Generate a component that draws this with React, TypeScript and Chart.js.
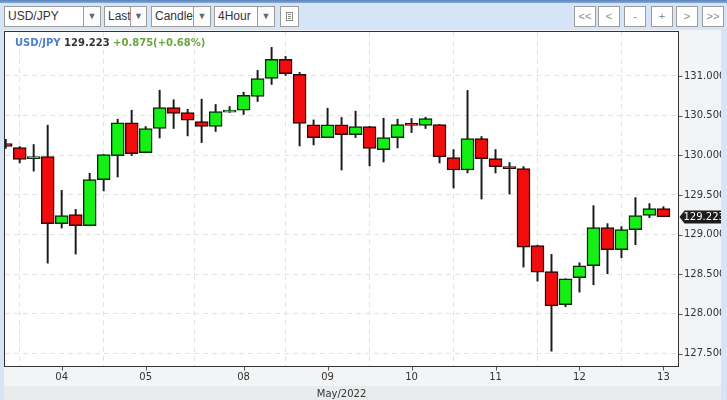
import React, { useEffect, useRef } from 'react';
import { Chart, registerables } from 'chart.js';

Chart.register(...registerables);

// ---- data (4-hour candles, USD/JPY, May 2022) ----
const opens = [
  130.148, 130.097, 129.958, 129.983, 129.138, 129.251, 129.112, 129.693, 129.996, 130.41,
  130.034, 130.337, 130.6, 130.539, 130.425, 130.362, 130.543, 130.568, 130.741, 130.968,
  131.208, 131.019, 130.383, 130.223, 130.383, 130.261, 130.362, 130.072, 130.223, 130.382,
  130.375, 130.388, 129.971, 129.814, 130.21, 129.958, 129.857, 129.832, 128.86, 128.532,
  128.115, 128.456, 128.607, 129.087, 128.809, 129.062, 129.24, 129.327,
];
const highs = [
  130.2, 130.11, 130.135, 130.379, 129.558, 129.318, 129.773, 130.01, 130.455, 130.568,
  130.362, 130.82, 130.7, 130.58, 130.707, 130.64, 130.615, 130.795, 131.07, 131.36,
  131.246, 131.044, 130.446, 130.593, 130.476, 130.556, 130.365, 130.467, 130.455, 130.463,
  130.48, 130.39, 130.072, 130.817, 130.236, 130.072, 129.908, 129.857, 128.867, 128.75,
  128.443, 128.645, 129.365, 129.138, 129.1, 129.466, 129.39, 129.352,
];
const lows = [
  130.085, 129.903, 129.8, 128.64, 129.082, 128.754, 129.11, 129.55, 129.726, 129.996,
  130.03, 130.218, 130.337, 130.244, 130.16, 130.3, 130.54, 130.514, 130.678, 130.893,
  131.006, 130.117, 130.13, 130.223, 129.814, 130.223, 129.865, 129.915, 130.092, 130.286,
  130.337, 129.903, 129.587, 129.777, 129.448, 129.777, 129.511, 128.59, 128.413, 127.53,
  128.09, 128.274, 128.367, 128.506, 128.708, 128.872, 129.213, 129.226,
];
const closes = [
  130.11, 129.946, 129.983, 129.138, 129.239, 129.112, 129.693, 130.009, 130.41, 130.02,
  130.337, 130.6, 130.527, 130.442, 130.362, 130.552, 130.568, 130.754, 130.968, 131.208,
  131.03, 130.4, 130.223, 130.383, 130.261, 130.362, 130.085, 130.223, 130.388, 130.376,
  130.463, 129.979, 129.814, 130.21, 129.958, 129.857, 129.832, 128.842, 128.527, 128.102,
  128.443, 128.607, 129.087, 128.809, 129.062, 129.24, 129.327, 129.223,
];
const dayTickIndex = [4, 10, 17, 23, 29, 35, 41, 47];
const dayTickLabels = ['04', '05', '08', '09', '10', '11', '12', '13'];
const priceTicks = [127.5, 128, 128.5, 129, 129.5, 130, 130.5, 131];
const lastPrice = 129.223;
const symbolName = 'USD/JPY';
const lastPriceText = '129.223';
const changeText = '+0.875(+0.68%)';
const monthLabel = 'May/2022';
const selectTexts = ['USD/JPY', 'Last', 'Candle', '4Hour'];
const navButtons = ['<<', '<', '-', '+', '>', '>>'];

const FONT = "'DejaVu Sans', sans-serif";

const framePlugin = {
  id: 'frame',
  beforeDraw(chart: any) {
    const { ctx, chartArea } = chart;
    ctx.save();
    ctx.fillStyle = '#ffffff';
    ctx.fillRect(chartArea.left, chartArea.top, chartArea.right - chartArea.left, chartArea.bottom - chartArea.top);
    ctx.restore();
  },
  afterDraw(chart: any) {
    const { ctx, chartArea, scales } = chart;
    const x0 = Math.round(chartArea.left) - 0.5;
    const y0 = Math.round(chartArea.top) - 0.5;
    const x1 = Math.round(chartArea.right) + 0.5;
    const y1 = Math.round(chartArea.bottom) + 0.5;
    ctx.save();
    ctx.strokeStyle = '#333333';
    ctx.lineWidth = 1;
    ctx.strokeRect(x0, y0, x1 - x0, y1 - y0);
    // tick marks
    ctx.strokeStyle = '#555555';
    ctx.beginPath();
    priceTicks.forEach((v) => {
      const py = Math.round(scales.y.getPixelForValue(v)) + 0.5;
      ctx.moveTo(x1, py);
      ctx.lineTo(x1 + 4, py);
    });
    dayTickIndex.forEach((v) => {
      const px = Math.round(scales.x.getPixelForValue(v)) + 0.5;
      ctx.moveTo(px, y1);
      ctx.lineTo(px, y1 + 4);
    });
    ctx.stroke();
    // last price tag
    const ty = scales.y.getPixelForValue(lastPrice);
    ctx.fillStyle = '#1c1c1c';
    ctx.beginPath();
    ctx.moveTo(x1 + 1, ty);
    ctx.lineTo(x1 + 6, ty - 6.5);
    ctx.lineTo(x1 + 43, ty - 6.5);
    ctx.lineTo(x1 + 43, ty + 6.5);
    ctx.lineTo(x1 + 6, ty + 6.5);
    ctx.closePath();
    ctx.fill();
    ctx.fillStyle = '#ffffff';
    ctx.font = `10px ${FONT}`;
    ctx.textBaseline = 'middle';
    ctx.textAlign = 'left';
    ctx.fillText(lastPrice.toFixed(3), x1 + 5, ty + 0.5);
    ctx.restore();
  },
};

function CandleChart() {
  const ref = useRef<HTMLCanvasElement | null>(null);
  useEffect(() => {
    if (!ref.current) return;
    const up = closes.map((c, i) => c >= opens[i]);
    const chart = new Chart(ref.current, {
      type: 'bar',
      data: {
        datasets: [
          {
            label: 'body',
            data: opens.map((o, i) => ({ x: i, y: [o, closes[i]] })) as any,
            backgroundColor: up.map((u) => (u ? '#14f014' : '#f20c0c')),
            borderColor: up.map((u) => (u ? '#0b2a0b' : '#2e0707')),
            borderWidth: 1.5,
            borderSkipped: false,
            barThickness: 13,
            minBarLength: 2,
            grouped: false,
            order: 0,
          } as any,
          {
            label: 'wick',
            data: lows.map((l, i) => ({ x: i, y: [l, highs[i]] })) as any,
            backgroundColor: '#1a1a1a',
            borderWidth: 0,
            barThickness: 1.3,
            grouped: false,
            order: 1,
          } as any,
        ],
      },
      options: {
        animation: false,
        responsive: false,
        maintainAspectRatio: false,
        layout: { padding: { left: 1, top: 2, right: 0, bottom: 0 } },
        plugins: { legend: { display: false }, tooltip: { enabled: false } },
        scales: {
          x: {
            type: 'linear',
            position: 'bottom',
            min: -0.05,
            max: 48.04,
            offset: false,
            afterBuildTicks: (s: any) => {
              s.ticks = dayTickIndex.map((v) => ({ value: v }));
            },
            afterFit: (s: any) => {
              s.height = 34;
              s.paddingLeft = 0;
              s.paddingRight = 0;
            },
            ticks: {
              autoSkip: false,
              maxRotation: 0,
              padding: 5,
              color: '#333333',
              font: { family: FONT, size: 10 },
              callback: (v: any) => {
                const k = dayTickIndex.indexOf(Number(v));
                return k >= 0 ? dayTickLabels[k] : '';
              },
            },
            grid: { color: '#e3e3e3', drawTicks: false, lineWidth: 1 },
            border: { display: false, dash: [5, 4] },
          },
          y: {
            type: 'linear',
            position: 'right',
            min: 127.343,
            max: 131.554,
            afterBuildTicks: (s: any) => {
              s.ticks = priceTicks.map((v) => ({ value: v }));
            },
            afterFit: (s: any) => {
              s.width = 43;
              s.paddingTop = 0;
              s.paddingBottom = 0;
            },
            ticks: {
              padding: 6,
              color: '#333333',
              font: { family: FONT, size: 10 },
              callback: (v: any) => Number(v).toFixed(3),
            },
            grid: { color: '#e3e3e3', drawTicks: false, lineWidth: 1 },
            border: { display: false, dash: [5, 4] },
          },
        },
      } as any,
      plugins: [framePlugin],
    });
    return () => chart.destroy();
  }, []);
  return <canvas ref={ref} width={717} height={370} style={{ position: 'absolute', left: 0, top: 0, width: 717, height: 370 }} />;
}

const boxBase: React.CSSProperties = {
  position: 'absolute',
  top: 6,
  height: 19,
  border: '1px solid #9c9c9c',
  background: '#ffffff',
  boxSizing: 'content-box',
  fontFamily: "'Liberation Sans', Arial, sans-serif",
  fontSize: 12,
  color: '#333',
  lineHeight: '19px',
  overflow: 'hidden',
  whiteSpace: 'nowrap',
};

function Select({ left, width, arrowWidth, text }: { left: number; width: number; arrowWidth: number; text: string }) {
  return (
    <>
      <div style={{ ...boxBase, left, width: width - 2, paddingLeft: 0, textIndent: 3 }}>{text}</div>
      <div
        style={{
          ...boxBase,
          left: left + width - 1,
          width: arrowWidth - 1,
          textAlign: 'center',
          fontSize: 9,
          color: '#666',
          background: '#fbfbfb',
        }}
      >
        ▼
      </div>
    </>
  );
}

export default function App() {
  useEffect(() => {
    document.body.style.margin = '0';
  }, []);
  const selects = [
    { left: 4, width: 80, arrowWidth: 17 },
    { left: 104, width: 27, arrowWidth: 16 },
    { left: 151, width: 43, arrowWidth: 17 },
    { left: 214, width: 44, arrowWidth: 17 },
  ];
  const navLefts = [574, 598, 624, 651, 676, 702];
  return (
    <div style={{ position: 'relative', width: 727, height: 400, overflow: 'hidden', background: '#d5e5f7' }}>
      <div style={{ position: 'absolute', left: 0, top: 0, width: 727, height: 3, background: 'linear-gradient(#5a84bc, #86a8d6)' }} />
      {selects.map((s, i) => (
        <Select key={i} left={s.left} width={s.width} arrowWidth={s.arrowWidth} text={selectTexts[i]} />
      ))}
      <div style={{ ...boxBase, left: 280, width: 17 }}>
        <div style={{ position: 'absolute', left: 5, top: 5, width: 7, height: 9, border: '1px solid #888', boxSizing: 'border-box' }} />
        {[7, 9, 11].map((t) => (
          <div key={t} style={{ position: 'absolute', left: 7, top: t, width: 3, height: 1, background: '#888' }} />
        ))}
      </div>
      {navButtons.map((b, i) => (
        <div
          key={i}
          style={{ ...boxBase, left: navLefts[i], width: 20, textAlign: 'center', color: '#8a8a8a', fontSize: 11 }}
        >
          {b}
        </div>
      ))}
      <div style={{ position: 'absolute', left: 4, top: 30, width: 717, height: 370, background: '#f3f4f6' }}>
        <div style={{ position: 'absolute', left: 0, top: 356, width: 717, height: 14, background: '#eaebed' }} />
        <CandleChart />
        <div
          style={{
            position: 'absolute',
            left: 1,
            top: 358,
            width: 673,
            height: 12,
            lineHeight: '12px',
            textAlign: 'center',
            fontFamily: FONT,
            fontSize: 10,
            color: '#333',
          }}
        >
          {monthLabel}
        </div>
      </div>
      <div
        style={{
          position: 'absolute',
          left: 15,
          top: 37,
          height: 12,
          lineHeight: '12px',
          fontFamily: FONT,
          fontSize: 10,
          fontWeight: 'bold',
          whiteSpace: 'nowrap',
        }}
      >
        <span style={{ color: '#4f7fcb' }}>{symbolName}</span>{' '}
        <span style={{ color: '#333' }}>{lastPriceText}</span>{' '}
        <span style={{ color: '#6aa63c' }}>{changeText}</span>
      </div>
    </div>
  );
}
